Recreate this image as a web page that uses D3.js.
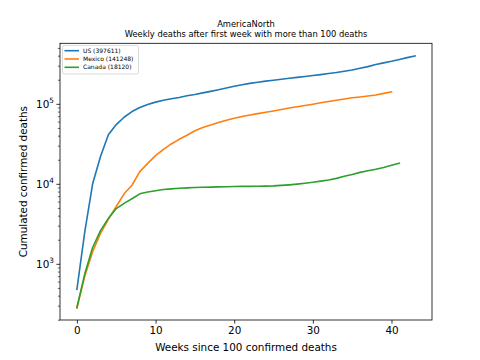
<!DOCTYPE html>
<html><head><meta charset="utf-8">
<script src="https://cdn.jsdelivr.net/npm/d3@7"></script>
<style>body{margin:0;background:#fff}svg{display:block}text{font-family:"DejaVu Sans",sans-serif}</style>
</head><body><svg id="c" width="480" height="360"></svg>
<script>
const weeksUS = d3.range(0, 44);
const us = [480,2500,10000,22000,41000,55000,68000,80000,90000,98000,105000,111000,116000,120000,126000,131000,137000,143000,150000,158000,166000,173000,180000,186000,192000,197000,203000,209000,214000,220000,226000,232000,239000,246000,256000,265000,278000,292000,310000,325000,340000,358000,378000,397611];
const weeksMX = d3.range(0, 41);
const mexico = [280,700,1420,2400,3600,5200,7500,9600,14200,18000,22500,27000,31500,36000,40500,46000,50500,54500,58500,62500,66000,69500,72500,75500,78500,81500,85000,88500,92000,95500,99000,103000,107000,111000,115000,119000,122000,125500,129000,135000,141248];
const weeksCA = d3.range(0, 42);
const canada = [285,750,1600,2600,3700,4900,5700,6500,7500,7900,8200,8500,8650,8800,8900,9000,9050,9100,9150,9200,9250,9280,9300,9330,9370,9420,9550,9700,9900,10150,10450,10800,11150,11700,12400,13100,13900,14600,15200,16000,17100,18120];
const seriesNames = ["US (397611)","Mexico (141248)","Canada (18120)"];
const colors = ["#1f77b4","#ff7f0e","#2ca02c"];
const xTicks = [0,10,20,30,40];
const yTicks = [1e3,1e4,1e5];
const titleLines = ["AmericaNorth","Weekly deaths after first week with more than 100 deaths"];
const xLabel = "Weeks since 100 confirmed deaths";
const yLabel = "Cumulated confirmed deaths";

const svg = d3.select("#c");
const L=60,R=432,T=43.3,B=320;
const x = d3.scaleLinear().domain([-2.15,45.15]).range([L,R]);
const ymin = Math.log10(285), ymax = Math.log10(397611);
const pad = (ymax-ymin)*0.05;
const y = d3.scaleLog().domain([Math.pow(10,ymin-pad), Math.pow(10,ymax+pad)]).range([B,T]);

const series = [[weeksUS,us],[weeksMX,mexico],[weeksCA,canada]];
const line = d3.line().x(d=>x(d[0])).y(d=>y(d[1]));
const g = svg.append("g");
series.forEach((s,i)=>{
  g.append("path").datum(s[0].map((w,j)=>[w,s[1][j]]))
   .attr("d",line).attr("fill","none").attr("stroke",colors[i]).attr("stroke-width",1.6)
   .attr("stroke-linejoin","round").attr("stroke-linecap","square");
});

// axes
const xAxis = d3.axisBottom(x).tickValues(xTicks).tickSize(3.6).tickPadding(3.5).tickFormat(d3.format("d"));
const gx = svg.append("g").attr("transform",`translate(0,${B})`).call(xAxis);
gx.select(".domain").remove();
gx.selectAll("text").attr("font-size",10.4).attr("fill","#000").attr("font-family","DejaVu Sans");
gx.selectAll("line").attr("stroke","#000").attr("stroke-width",0.8);

const minor = [];
for (let e=2;e<=5;e++) for (let k=2;k<=9;k++){const v=k*Math.pow(10,e); if(v>y.domain()[0]&&v<y.domain()[1]) minor.push(v);}
const gym = svg.append("g").attr("transform",`translate(${L},0)`).call(d3.axisLeft(y).tickValues(minor).tickSize(2.1).tickFormat(""));
gym.select(".domain").remove();
gym.selectAll("line").attr("stroke","#000").attr("stroke-width",0.6);

const gy = svg.append("g").attr("transform",`translate(${L},0)`).call(d3.axisLeft(y).tickValues(yTicks).tickSize(3.6).tickFormat(""));
gy.select(".domain").remove();
gy.selectAll("line").attr("stroke","#000").attr("stroke-width",0.8);
yTicks.forEach(v=>{
  const t = svg.append("text").attr("x",L-6).attr("y",y(v)+4).attr("text-anchor","end").attr("font-size",10.4).attr("fill","#000");
  t.append("tspan").text("10");
  t.append("tspan").attr("font-size",7.3).attr("dy",-4.5).text(String(Math.round(Math.log10(v))));
});

svg.append("rect").attr("x",L).attr("y",T).attr("width",R-L).attr("height",B-T)
  .attr("fill","none").attr("stroke","#000").attr("stroke-width",0.8);

// titles
svg.append("text").attr("x",(L+R)/2).attr("y",26.5).attr("text-anchor","middle").attr("font-size",8.33).text(titleLines[0]);
svg.append("text").attr("x",(L+R)/2).attr("y",36.5).attr("text-anchor","middle").attr("font-size",8.33).text(titleLines[1]);
svg.append("text").attr("x",(L+R)/2).attr("y",350.5).attr("text-anchor","middle").attr("font-size",10.4).text(xLabel);
svg.append("text").attr("transform",`translate(27,${(T+B)/2}) rotate(-90)`).attr("text-anchor","middle").attr("font-size",10.4).text(yLabel);

// legend
const lg = svg.append("g");
lg.append("rect").attr("x",62.5).attr("y",45.5).attr("width",76).attr("height",28.5).attr("rx",2)
  .attr("fill","#fff").attr("fill-opacity",0.8).attr("stroke","#d0d0d0").attr("stroke-width",0.8);
seriesNames.forEach((n,i)=>{
  const yy = 50.7 + i*8.3;
  lg.append("line").attr("x1",64.5).attr("x2",79).attr("y1",yy).attr("y2",yy).attr("stroke",colors[i]).attr("stroke-width",1.6);
  lg.append("text").attr("x",83).attr("y",yy+2.1).attr("font-size",6).text(n);
});
</script></body></html>
